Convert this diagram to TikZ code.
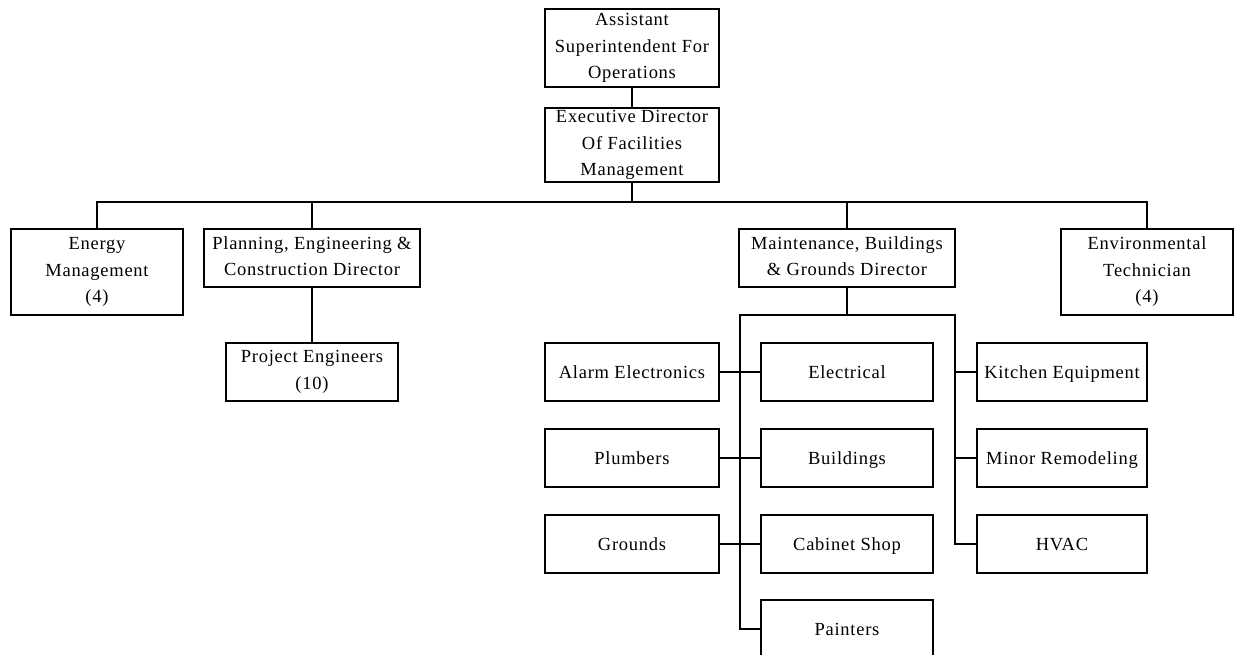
\documentclass[tikz,border=0pt]{standalone}
\usepackage{fontspec}
\setmainfont{Liberation Serif}[LetterSpace=4]
% invisible prop that centres the capitals of every line
\newcommand\capstrut{\rule[-4pt]{0pt}{20pt}}
\begin{document}
\begin{tikzpicture}[x=1pt,y=-1pt,
  box/.style={draw,line width=1.8pt,inner sep=0pt,align=center,
    font=\fontsize{18.5}{26.5}\selectfont,
    execute at begin node=\capstrut, execute at end node=\capstrut},
  wire/.style={line width=1.8pt}]
\useasboundingbox (0,0) rectangle (1238,654);
\clip (0,0) rectangle (1238,654);

% top of the chart
\node[box,minimum width=174,minimum height=78] (aso) at (632,48) {Assistant\\Superintendent For\\Operations};
\node[box,minimum width=174,minimum height=74] (edf) at (632,145) {Executive Director\\Of Facilities\\Management};

% second level
\node[box,minimum width=172,minimum height=86] (energy) at (97,272) {Energy\\Management\\(4)};
\node[box,minimum width=216,minimum height=58] (plan) at (312,258) {Planning, Engineering \&\\Construction Director};
\node[box,minimum width=216,minimum height=58] (maint) at (847,258) {Maintenance, Buildings\\\& Grounds Director};
\node[box,minimum width=172,minimum height=86] (env) at (1147,272) {Environmental\\Technician\\(4)};

\node[box,minimum width=172,minimum height=58] (proj) at (312,372) {Project Engineers\\(10)};

% trades under maintenance
\node[box,minimum width=174,minimum height=58] (alarm) at (632,372) {Alarm Electronics};
\node[box,minimum width=174,minimum height=58] (plumb) at (632,458) {Plumbers};
\node[box,minimum width=174,minimum height=58] (grounds) at (632,544) {Grounds};

\node[box,minimum width=172,minimum height=58] (elec) at (847,372) {Electrical};
\node[box,minimum width=172,minimum height=58] (build) at (847,458) {Buildings};
\node[box,minimum width=172,minimum height=58] (cab) at (847,544) {Cabinet Shop};
\node[box,minimum width=172,minimum height=58] (paint) at (847,629) {Painters};

\node[box,minimum width=170,minimum height=58] (kitchen) at (1062,372) {Kitchen Equipment};
\node[box,minimum width=170,minimum height=58] (minor) at (1062,458) {Minor Remodeling};
\node[box,minimum width=170,minimum height=58] (hvac) at (1062,544) {HVAC};

% bus rails
\coordinate (bus) at (0,202);
\coordinate (sub) at (0,315);
\coordinate (lbus) at (740,0);
\coordinate (rbus) at (955,0);

% connectors
\draw[wire] (aso.south) -- (edf.north);
\draw[wire] (edf.south) -- (edf.south |- bus);
\draw[wire] (energy.north) |- (env.north |- bus) -- (env.north);
\draw[wire] (plan.north) -- (plan.north |- bus);
\draw[wire] (maint.north) -- (maint.north |- bus);
\draw[wire] (plan.south) -- (proj.north);

\draw[wire] (maint.south) -- (maint.south |- sub);
\draw[wire] (paint.west) -| (lbus |- sub) -- (rbus |- sub) |- (hvac.west);
\draw[wire] (alarm.east) -- (elec.west);
\draw[wire] (plumb.east) -- (build.west);
\draw[wire] (grounds.east) -- (cab.west);
\draw[wire] (rbus |- kitchen.west) -- (kitchen.west);
\draw[wire] (rbus |- minor.west) -- (minor.west);
\end{tikzpicture}
\end{document}
